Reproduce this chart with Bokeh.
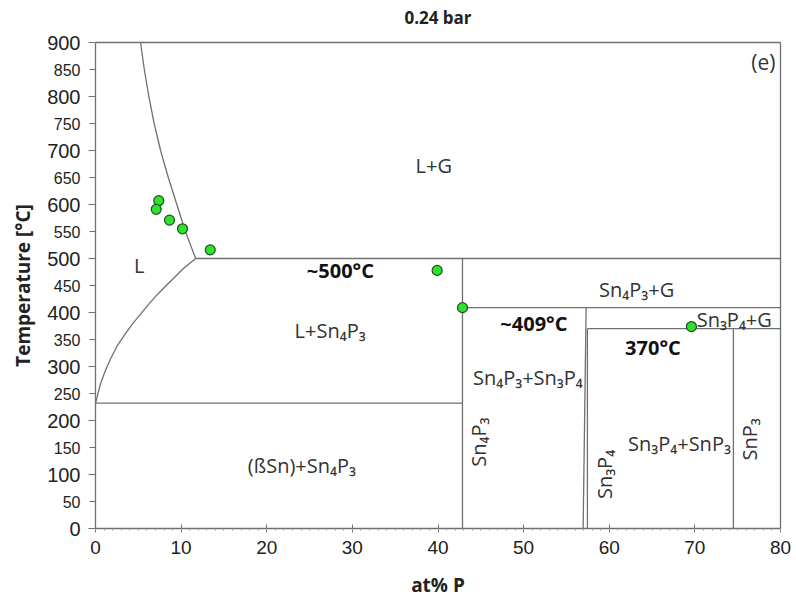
from bokeh.plotting import figure
from bokeh.models import FixedTicker, Range1d, LinearAxis
from bokeh.core.properties import value
from bokeh.embed import file_html
from bokeh.resources import INLINE
import math

# Sn-P phase diagram at 0.24 bar
liq_upper_x = [5.26, 5.7, 6.23, 6.85, 7.6, 8.5, 9.5, 10.5, 11.7]
liq_upper_T = [900, 850, 800, 750, 700, 650, 600, 550, 500]
liq_lower_x = [0, 0.58, 1.17, 1.75, 2.53, 3.5, 4.28, 5.26, 6.2, 7.2, 8.2, 9.15, 10.3, 11.7]
liq_lower_T = [232, 268, 293, 314, 338, 361, 378, 397, 415, 433, 449, 464, 482, 500]

# invariant / phase boundary segments: (x0, T0) -> (x1, T1)
seg_x0 = [0.0, 11.7, 42.86, 42.86, 57.3, 57.45, 57.45, 74.5]
seg_T0 = [232, 500, 409, 500, 409, 370, 370, 370]
seg_x1 = [42.86, 80.0, 80.0, 42.86, 56.95, 80.0, 57.45, 74.5]
seg_T1 = [232, 500, 409, 0, 0, 370, 0, 0]

# measured points
meas_x = [7.39, 7.09, 8.64, 10.16, 13.4, 39.9, 42.86, 69.6]
meas_T = [607, 591, 571, 555, 516, 478, 409, 374]

# phase field labels
phase_text = ["L+G", "L", "L+Sn\u2084P\u2083", "Sn\u2084P\u2083+G", "Sn\u2083P\u2084+G",
              "Sn\u2084P\u2083+Sn\u2083P\u2084", "Sn\u2083P\u2084+SnP\u2083",
              "(\u00dfSn)+Sn\u2084P\u2083"]
phase_x = [39.5, 5.1, 27.4, 63.2, 74.6, 50.5, 68.2, 24.1]
phase_T = [672, 487, 367, 442, 387, 280, 157, 117]

# compound labels drawn vertically
comp_text = ["Sn\u2084P\u2083", "Sn\u2083P\u2084", "SnP\u2083"]
comp_x = [44.7, 59.4, 76.4]
comp_T = [160, 100, 165]

# invariant temperatures
inv_text = ["~500\u00b0C", "~409\u00b0C", "370\u00b0C"]
inv_x = [28.6, 51.2, 65.1]
inv_T = [478, 379, 335]

# axis extents and ticks
X_MIN, X_MAX = 0, 80
T_MIN, T_MAX = 0, 900
x_ticks = list(range(0, 81, 10))
x_minor = list(range(0, 81))
y_major = list(range(0, 901, 100))
y_half = list(range(50, 900, 100))

LINE = "#707070"
TXT = "#222222"

# canvas layout (pixels): plotting box inside a 796x600 page
W, H = 796, 600
LEFT, RIGHT, TOP, BOTTOM = 95, 16, 42, 72
sx = (W - LEFT - RIGHT) / (X_MAX - X_MIN)
sy = (H - TOP - BOTTOM) / (T_MAX - T_MIN)

p = figure(width=W, height=H, output_backend="svg", toolbar_location=None,
           x_range=Range1d(X_MIN - LEFT / sx, X_MAX + RIGHT / sx),
           y_range=Range1d(T_MIN - BOTTOM / sy, T_MAX + TOP / sy),
           min_border_left=0, min_border_right=0, min_border_top=0, min_border_bottom=0)
p.xgrid.visible = False
p.ygrid.visible = False
p.outline_line_color = None

# x axis anchored at T = 0
xa = p.xaxis[0]
xa.fixed_location = T_MIN
xa.bounds = (X_MIN, X_MAX)
xa.ticker = FixedTicker(ticks=x_ticks, minor_ticks=x_minor)
xa.axis_label = "at% P"
xa.axis_label_text_font = "Open Sans"
xa.axis_label_text_font_style = "bold"
xa.axis_label_text_font_size = "19px"
xa.axis_label_text_color = TXT
xa.axis_label_standoff = 15
xa.major_label_text_font = "Liberation Sans"
xa.major_label_text_font_size = "19px"
xa.major_label_text_color = TXT
xa.major_label_standoff = 8
xa.axis_line_color = LINE
xa.axis_line_width = 1.3
xa.major_tick_line_color = LINE
xa.minor_tick_line_color = "#999999"
xa.major_tick_in = 4
xa.major_tick_out = 4
xa.minor_tick_in = 0
xa.minor_tick_out = 2

# y axis anchored at x = 0: hundreds labelled large
ya = p.yaxis[0]
ya.fixed_location = X_MIN
ya.bounds = (T_MIN, T_MAX)
ya.ticker = FixedTicker(ticks=y_major, minor_ticks=y_half)
ya.axis_label = "Temperature [\u00b0C]"
ya.axis_label_text_font = "Open Sans"
ya.axis_label_text_font_style = "bold"
ya.axis_label_text_font_size = "19px"
ya.axis_label_text_color = TXT
ya.axis_label_standoff = 8
ya.major_label_text_font = "Liberation Sans"
ya.major_label_text_font_size = "20px"
ya.major_label_text_color = TXT
ya.major_label_standoff = 8
ya.axis_line_color = LINE
ya.axis_line_width = 1.3
ya.major_tick_line_color = LINE
ya.minor_tick_line_color = LINE
ya.major_tick_in = 0
ya.major_tick_out = 7
ya.minor_tick_in = 0
ya.minor_tick_out = 6

# second axis on the same line carrying the smaller fifties labels
ya2 = LinearAxis(fixed_location=X_MIN, bounds=(T_MIN, T_MAX),
                 ticker=FixedTicker(ticks=y_half),
                 axis_line_color=None, major_tick_line_color=None, minor_tick_line_color=None,
                 major_tick_in=0, major_tick_out=7, major_label_standoff=8,
                 major_label_text_font="Liberation Sans", major_label_text_font_size="16px",
                 major_label_text_color=TXT)
p.add_layout(ya2, "left")

# remaining sides of the plotting box
p.segment(x0=[X_MIN, X_MAX], y0=[T_MAX, T_MIN], x1=[X_MAX, X_MAX], y1=[T_MAX, T_MAX],
          line_color=LINE, line_width=1.3)

# phase boundaries
p.line(liq_upper_x, liq_upper_T, line_color=LINE, line_width=1.3)
p.line(liq_lower_x, liq_lower_T, line_color=LINE, line_width=1.3)
p.segment(x0=seg_x0, y0=seg_T0, x1=seg_x1, y1=seg_T1, line_color=LINE, line_width=1.3)

# measurements
p.scatter(meas_x, meas_T, size=10, fill_color="#2fe02f", line_color="#1f4f1f", line_width=1.2)

# labels
p.text(phase_x, phase_T, text=phase_text, text_align="center", text_baseline="middle",
       text_font=value("Open Sans"), text_font_size="20px", text_color="#333333")
p.text(comp_x, comp_T, text=comp_text, angle=math.pi / 2, text_align="center",
       text_baseline="middle", text_font=value("Open Sans"), text_font_size="20px",
       text_color="#333333")
p.text(inv_x, inv_T, text=inv_text, text_align="center", text_baseline="middle",
       text_font=value("Open Sans"), text_font_size="20px", text_font_style="bold",
       text_color="#111111")
p.text([79.4], [863], text=["(e)"], text_align="right", text_baseline="middle",
       text_font=value("Open Sans"), text_font_size="21px", text_color="#333333")

# heading above the box
p.text([(X_MIN + X_MAX) / 2], [T_MAX + 25 / sy], text=["0.24 bar"], text_align="center",
       text_baseline="middle", text_font=value("Open Sans"), text_font_size="17px",
       text_font_style="bold", text_color=TXT)

open("out.html", "w").write(file_html(p, INLINE))
